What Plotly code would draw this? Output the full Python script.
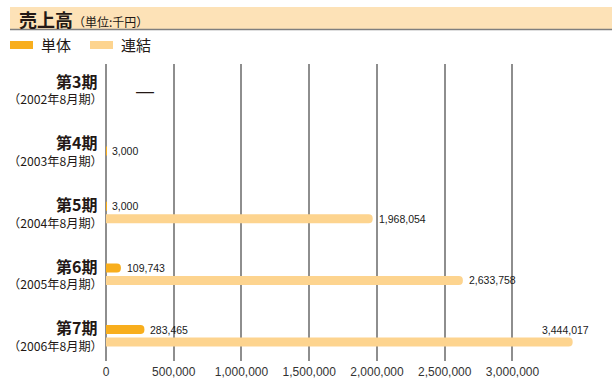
import plotly.graph_objects as go

# ---- data -------------------------------------------------------------
periods = ["第3期", "第4期", "第5期", "第6期", "第7期"]
fiscal = ["2002年8月期", "2003年8月期", "2004年8月期", "2005年8月期", "2006年8月期"]
series_names = ["単体", "連結"]
tantai = [None, 3000, 3000, 109743, 283465]          # 単体 (千円)
renketsu = [None, None, 1968054, 2633758, 3444017]   # 連結 (千円)
x_ticks = [0, 500000, 1000000, 1500000, 2000000, 2500000, 3000000]

# ---- style ------------------------------------------------------------
C_TANTAI = "#F8AE1D"
C_RENKETSU = "#FDD48F"
C_BAND = "#FDE2B7"
C_GRID = "#8E8E8E"
C_TEXT = "#231815"
JP = "Noto Sans CJK JP"
NUM = "Liberation Sans, Noto Sans CJK JP"

W, H = 612, 379
M_L, M_R, M_T, M_B = 106, 25, 64, 18
PLOT_W = W - M_L - M_R
PLOT_H = H - M_T - M_B
X_MAX = 3550000
Y_RANGE = [4.409, -0.412]          # reversed category axis: 第3期 on top
px_per_cat = PLOT_H / (Y_RANGE[0] - Y_RANGE[1])
px_per_val = PLOT_W / X_MAX


def px_x(x):
    """page pixel -> paper x"""
    return (x - M_L) / PLOT_W


def px_y(y):
    """page pixel (from top) -> paper y"""
    return (H - M_B - y) / PLOT_H


BAR_PX = 9.0        # bar thickness
SEP_PX = 12.5       # distance between the two bar centres in a group
bw = BAR_PX / px_per_cat
half = SEP_PX / 2 / px_per_cat


def fmt(v):
    return f"{v:,}"


# per-bar offsets: a lone 単体 bar sits in the middle of its group
off_t, off_r = [], []
for t, r in zip(tantai, renketsu):
    off_t.append(-bw / 2 if r is None else -half - bw / 2)
    off_r.append(half - bw / 2)

fig = go.Figure()
fig.add_trace(go.Bar(
    y=periods, x=tantai, orientation="h", name=series_names[0],
    width=[bw] * len(periods), offset=off_t,
    marker=dict(color=C_TANTAI, cornerradius=4, line=dict(width=0)),
    showlegend=False, hoverinfo="skip",
))
fig.add_trace(go.Bar(
    y=periods, x=renketsu, orientation="h", name=series_names[1],
    width=[bw] * len(periods), offset=off_r,
    marker=dict(color=C_RENKETSU, cornerradius=4, line=dict(width=0)),
    showlegend=False, hoverinfo="skip",
))

ann = []
shift = SEP_PX / 2
val_font = dict(family=NUM, size=10.5, color="#1a1a1a")
for p, t, r in zip(periods, tantai, renketsu):
    if t is None and r is None:
        # no figures for this period
        ann.append(dict(x=0, y=p, xref="x", yref="y", text="—", showarrow=False,
                        xanchor="left", xshift=28, yshift=-2,
                        font=dict(family=NUM, size=18, color=C_TEXT)))
        continue
    if t is not None:
        ys = shift if r is not None else 0
        ann.append(dict(x=t, y=p, xref="x", yref="y", text=fmt(t), showarrow=False,
                        xanchor="left", xshift=4, yshift=ys, font=val_font))
    if r is not None:
        label_px = len(fmt(r)) * 5.4
        if r * px_per_val + label_px > PLOT_W:
            # too long for the row: put it above the bar end
            ann.append(dict(x=r, y=p, xref="x", yref="y", text=fmt(r), showarrow=False,
                            xanchor="right", xshift=18, yshift=shift, font=val_font))
        else:
            ann.append(dict(x=r, y=p, xref="x", yref="y", text=fmt(r), showarrow=False,
                            xanchor="left", xshift=4, yshift=-shift, font=val_font))

# period labels on the left: period name over fiscal month
for p, f in zip(periods, fiscal):
    ann.append(dict(x=0, y=p, xref="x", yref="y", text=f"<b>{p}</b>", showarrow=False,
                    xanchor="right", xshift=-7, yshift=8.5,
                    font=dict(family=JP, size=16, color=C_TEXT)))
    ann.append(dict(x=0, y=p, xref="x", yref="y", text=f"（{f}）", showarrow=False,
                    xanchor="right", xshift=-1, yshift=-10,
                    font=dict(family=JP, size=12.2, color=C_TEXT)))

# title band
ann.append(dict(x=px_x(17), y=px_y(19), xref="paper", yref="paper", showarrow=False,
                xanchor="left", yanchor="middle",
                text="<b>売上高</b><span style='font-size:12px'>（単位:千円）</span>",
                font=dict(family=JP, size=18, color=C_TEXT)))

shapes = [
    dict(type="rect", xref="paper", yref="paper", x0=px_x(10), x1=px_x(W),
         y0=px_y(29), y1=px_y(7), fillcolor=C_BAND, line=dict(width=0), layer="below"),
    dict(type="line", xref="paper", yref="paper", x0=px_x(10), x1=px_x(W),
         y0=px_y(29.5), y1=px_y(29.5), line=dict(color="#7F7F7F", width=1.5)),
]

# legend
for i, (name, col) in enumerate(zip(series_names, [C_TANTAI, C_RENKETSU])):
    x0 = 10 + i * 80
    shapes.append(dict(type="rect", xref="paper", yref="paper",
                       x0=px_x(x0), x1=px_x(x0 + 23), y0=px_y(49), y1=px_y(41),
                       fillcolor=col, line=dict(width=0)))
    ann.append(dict(x=px_x(x0 + 29), y=px_y(45), xref="paper", yref="paper",
                    text=name, showarrow=False, xanchor="left", yanchor="middle",
                    font=dict(family=JP, size=15, color=C_TEXT)))

fig.update_layout(
    width=W, height=H,
    margin=dict(l=M_L, r=M_R, t=M_T, b=M_B),
    paper_bgcolor="white", plot_bgcolor="white",
    barmode="overlay",
    annotations=ann, shapes=shapes,
    xaxis=dict(range=[0, X_MAX], tickvals=x_ticks, ticktext=[fmt(v) for v in x_ticks],
               showgrid=True, gridcolor=C_GRID, gridwidth=1.5,
               zeroline=True, zerolinecolor=C_GRID, zerolinewidth=1.5,
               showline=False, ticks="", automargin=False, ticklabelstandoff=2,
               tickfont=dict(family=NUM, size=12, color="#333333")),
    yaxis=dict(type="category", categoryorder="array", categoryarray=periods,
               range=Y_RANGE, showticklabels=False, showgrid=False,
               zeroline=False, showline=False, ticks="", automargin=False),
)

fig.write_html("out.html")
